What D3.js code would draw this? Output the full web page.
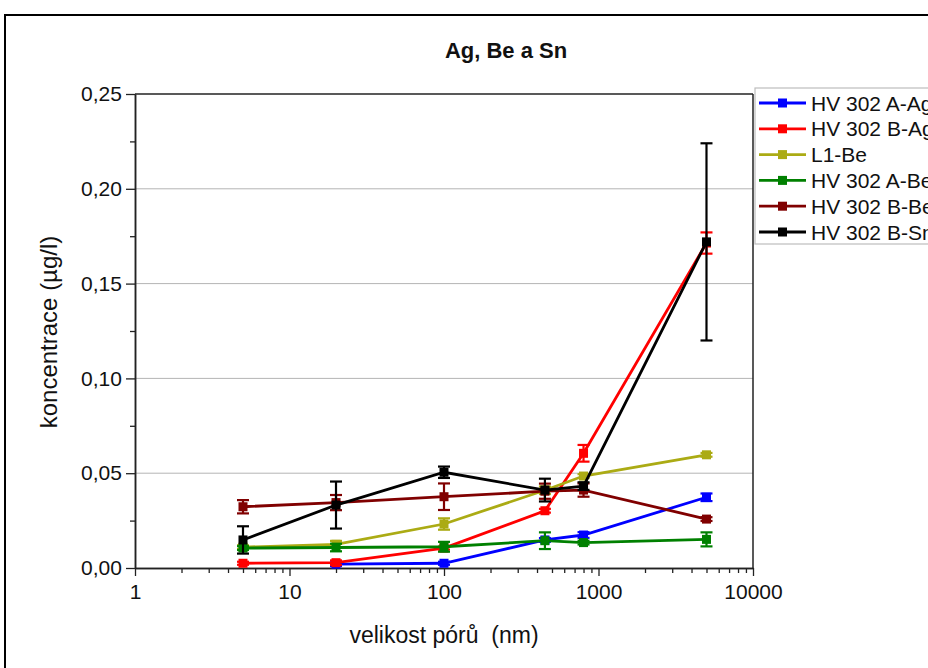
<!DOCTYPE html>
<html><head><meta charset="utf-8">
<script src="https://cdn.jsdelivr.net/npm/d3@7"></script>
<style>
html,body{margin:0;padding:0;background:#fff;}
svg{display:block;font-family:"Liberation Sans",Arial,sans-serif;}
</style></head>
<body>
<svg id="chart" width="928" height="668"></svg>
<script>
const poreSizes = [5, 20, 100, 450, 800, 5000];
const seriesNames = ["HV 302 A-Ag","HV 302 B-Ag","L1-Be","HV 302 A-Be","HV 302 B-Be","HV 302 B-Sn"];
const seriesColors = ["#0000ff","#ff0000","#abab14","#008000","#800000","#000000"];
const valA_Ag = [null, 0.0020, 0.0025, 0.0148, 0.0174, 0.0373];
const errA_Ag = [null, 0.0010, 0.0008, 0.0010, 0.0015, 0.0020];
const valB_Ag = [0.0025, 0.0028, 0.0105, 0.0302, 0.0605, 0.1714];
const errB_Ag = [0.0008, 0.0012, 0.0008, 0.0010, 0.0044, 0.0056];
const valL1_Be = [0.0110, 0.0125, 0.0232, 0.0410, 0.0485, 0.0597];
const errL1_Be = [0.0010, 0.0018, 0.0030, 0.0020, 0.0010, 0.0010];
const valA_Be = [0.0105, 0.0108, 0.0112, 0.0144, 0.0134, 0.0151];
const errA_Be = [0.0010, 0.0020, 0.0026, 0.0044, 0.0010, 0.0037];
const valB_Be = [0.0323, 0.0345, 0.0376, 0.0405, 0.0411, 0.0258];
const errB_Be = [0.0035, 0.0040, 0.0070, 0.0040, 0.0035, 0.0010];
const valB_Sn = [0.0148, 0.0332, 0.0505, 0.0411, 0.0432, 0.1720];
const errB_Sn = [0.0072, 0.0124, 0.0030, 0.0060, 0.0020, 0.0520];
const xMajorTicks = [1, 10, 100, 1000, 10000];
const yMajorTicks = [0, 0.05, 0.10, 0.15, 0.20, 0.25];
const yMinorTicks = [0.025, 0.075, 0.125, 0.175, 0.225];
const titleText = "Ag, Be a Sn";
const xLabel = "velikost pórů\u00a0 (nm)";
const yLabel = "koncentrace (µg/l)";

const values = [valA_Ag, valB_Ag, valL1_Be, valA_Be, valB_Be, valB_Sn];
const errors = [errA_Ag, errB_Ag, errL1_Be, errA_Be, errB_Be, errB_Sn];

const svg = d3.select("#chart");
const pLeft = 135, pRight = 753, pTop = 94, pBottom = 568;
const x = d3.scaleLog().domain([1, 10000]).range([pLeft, pRight]);
const y = d3.scaleLinear().domain([0, 0.25]).range([pBottom, pTop]);
const fmt = d3.formatLocale({decimal: ",", thousands: ".", grouping: [3], currency: ["", ""]}).format(".2f");

// outer frame
svg.append("rect").attr("x", 5).attr("y", 15).attr("width", 940).attr("height", 680)
  .attr("fill", "none").attr("stroke", "#000").attr("stroke-width", 2);

// gridlines
svg.append("g").selectAll("line").data(yMajorTicks.filter(d => d > 0 && d < 0.25)).join("line")
  .attr("x1", pLeft).attr("x2", pRight).attr("y1", d => y(d)).attr("y2", d => y(d))
  .attr("stroke", "#b4b4b4").attr("stroke-width", 1);

// frame top/right
svg.append("line").attr("x1", pLeft).attr("x2", pRight).attr("y1", pTop).attr("y2", pTop).attr("stroke", "#222").attr("stroke-width", 1.5);
svg.append("line").attr("x1", pRight).attr("x2", pRight).attr("y1", pTop).attr("y2", pBottom).attr("stroke", "#222").attr("stroke-width", 1.5);

// x axis
const minorX = [];
for (let p = 0; p < 4; p++) for (let k = 2; k <= 9; k++) minorX.push(k * Math.pow(10, p));
const gxMinor = svg.append("g").attr("transform", `translate(0,${pBottom})`)
  .call(d3.axisBottom(x).tickValues(minorX).tickSize(5).tickSizeOuter(0).tickFormat(""));
const gx = svg.append("g").attr("transform", `translate(0,${pBottom})`)
  .call(d3.axisBottom(x).tickValues(xMajorTicks).tickSize(8).tickSizeOuter(0).tickFormat(d3.format("d")));
gx.selectAll("text").attr("font-size", 21).attr("fill", "#111").attr("dy", "0.95em");
[gx, gxMinor].forEach(g => {
  g.selectAll("line").attr("stroke", "#222").attr("stroke-width", 1.3);
  g.select(".domain").attr("stroke", "#222").attr("stroke-width", 1.5);
});

// y axis
const gyMinor = svg.append("g").attr("transform", `translate(${pLeft},0)`)
  .call(d3.axisLeft(y).tickValues(yMinorTicks).tickSize(5).tickSizeOuter(0).tickFormat(""));
const gy = svg.append("g").attr("transform", `translate(${pLeft},0)`)
  .call(d3.axisLeft(y).tickValues(yMajorTicks).tickSize(9).tickSizeOuter(0).tickFormat(fmt));
gy.selectAll("text").attr("font-size", 21).attr("fill", "#111").attr("dx", "-0.05em");
[gy, gyMinor].forEach(g => {
  g.selectAll("line").attr("stroke", "#222").attr("stroke-width", 1.3);
  g.select(".domain").attr("stroke", "#222").attr("stroke-width", 1.5);
});

// series
const line = d3.line().defined(d => d.v != null).x(d => x(d.x)).y(d => y(d.v));
values.forEach((vals, i) => {
  const pts = poreSizes.map((p, j) => ({x: p, v: vals[j], e: errors[i][j]})).filter(d => d.v != null);
  const g = svg.append("g");
  const c = seriesColors[i];
  g.append("path").datum(pts).attr("d", line).attr("fill", "none").attr("stroke", c).attr("stroke-width", 2.8);
  const eb = g.selectAll("g.eb").data(pts.filter(d => d.e > 0)).join("g");
  eb.append("line").attr("x1", d => x(d.x)).attr("x2", d => x(d.x))
    .attr("y1", d => y(d.v - d.e)).attr("y2", d => y(d.v + d.e)).attr("stroke", c).attr("stroke-width", 2.2);
  [1, -1].forEach(s => {
    eb.append("line").attr("x1", d => x(d.x) - 6).attr("x2", d => x(d.x) + 6)
      .attr("y1", d => y(d.v + s * d.e)).attr("y2", d => y(d.v + s * d.e)).attr("stroke", c).attr("stroke-width", 2.2);
  });
  g.selectAll("rect").data(pts).join("rect")
    .attr("x", d => x(d.x) - 4.5).attr("y", d => y(d.v) - 4.5).attr("width", 9).attr("height", 9).attr("fill", c);
});

// title and labels
svg.append("text").attr("x", 506).attr("y", 58).attr("text-anchor", "middle")
  .attr("font-size", 22).attr("font-weight", "bold").attr("fill", "#111").text(titleText);
svg.append("text").attr("x", 444).attr("y", 643).attr("text-anchor", "middle")
  .attr("font-size", 23).attr("fill", "#111").text(xLabel);
svg.append("text").attr("transform", `translate(57,332) rotate(-90)`).attr("text-anchor", "middle")
  .attr("font-size", 24).attr("fill", "#111").text(yLabel);

// legend
const lg = svg.append("g");
lg.append("rect").attr("x", 755).attr("y", 88).attr("width", 200).attr("height", 156)
  .attr("fill", "#fff").attr("stroke", "#bdbdbd").attr("stroke-width", 1.2);
const li = lg.selectAll("g.li").data(seriesNames).join("g")
  .attr("transform", (d, i) => `translate(0,${103 + i * 25.8})`);
li.append("line").attr("x1", 759).attr("x2", 806).attr("y1", 0).attr("y2", 0)
  .attr("stroke", (d, i) => seriesColors[i]).attr("stroke-width", 2.8);
li.append("rect").attr("x", 778).attr("y", -4.5).attr("width", 9).attr("height", 9)
  .attr("fill", (d, i) => seriesColors[i]);
li.append("text").attr("x", 811).attr("y", 0).attr("dy", "0.36em")
  .attr("font-size", 21).attr("fill", "#111").text(d => d);
</script>
</body></html>
